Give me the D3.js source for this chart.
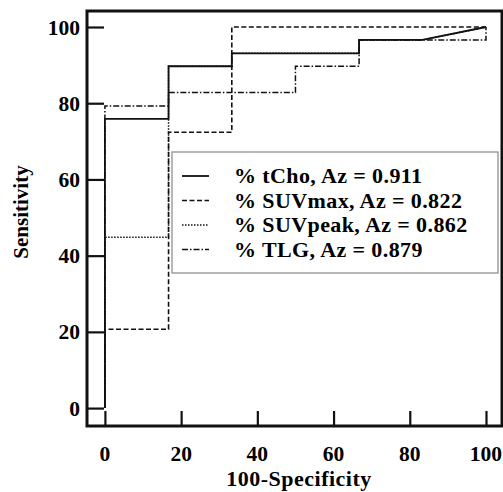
<!DOCTYPE html>
<html>
<head>
<meta charset="utf-8">
<script src="https://cdn.jsdelivr.net/npm/d3@7"></script>
<style>
  body { margin: 0; background: #fff; }
  svg text { font-family: "Liberation Serif", "Times New Roman", serif; font-weight: bold; fill: #000; }
</style>
</head>
<body>
<svg id="chart" width="503" height="492"></svg>
<script>
// ROC curves (100-Specificity, Sensitivity)
const tCho = [[0,0],[0,75.9],[16.7,75.9],[16.7,89.7],[33.3,89.7],[33.3,93.1],[66.7,93.1],[66.7,96.6],[83.3,96.6],[100,100]];
const suvMax = [[0,0],[0,20.7],[16.7,20.7],[16.7,72.4],[33.3,72.4],[33.3,100],[100,100]];
const suvPeak = [[0,0],[0,44.8],[16.7,44.8],[16.7,89.7],[33.3,89.7],[33.3,93.1],[66.7,93.1],[66.7,96.6],[83.3,96.6],[100,100]];
const tlg = [[0,0],[0,79.3],[16.7,79.3],[16.7,82.8],[50,82.8],[50,89.7],[66.7,89.7],[66.7,96.6],[100,96.6],[100,100]];

const seriesNames = ["% tCho, Az = 0.911", "% SUVmax, Az = 0.822", "% SUVpeak, Az = 0.862", "% TLG, Az = 0.879"];
const ticks = [0, 20, 40, 60, 80, 100];

const svg = d3.select("#chart");
const plotLeft = 87, plotRight = 502, plotTop = 11, plotBottom = 426;

const x = d3.scaleLinear().domain([-4.7, 104.2]).range([plotLeft, plotRight]);
const y = d3.scaleLinear().domain([-4.7, 104.2]).range([plotBottom, plotTop]);

const line = d3.line().x(d => x(d[0])).y(d => y(d[1]));

// styles per series, drawn back to front
const series = [
    { data: suvPeak, dash: "1.5,1.5", width: 1.5 },
    { data: tlg, dash: "6,2,1.5,2", width: 1.5 },
    { data: suvMax, dash: "5,2.5", width: 1.6 },
    { data: tCho, dash: null, width: 1.8 }
];

svg.selectAll("path.roc")
    .data(series)
    .enter()
    .append("path")
    .attr("class", "roc")
    .attr("d", d => line(d.data))
    .attr("fill", "none")
    .attr("stroke", "#111")
    .attr("stroke-width", d => d.width)
    .attr("stroke-dasharray", d => d.dash);

// axes: ticks drawn inward from the frame
const yAxis = d3.axisRight(y).tickValues(ticks).tickSize(17).tickFormat("");
svg.append("g")
    .attr("transform", `translate(${plotLeft},0)`)
    .call(yAxis)
    .call(g => g.select(".domain").remove())
    .call(g => g.selectAll("line").attr("stroke", "#111").attr("stroke-width", 2.2));

const xAxis = d3.axisTop(x).tickValues(ticks).tickSize(15).tickFormat("");
svg.append("g")
    .attr("transform", `translate(0,${plotBottom})`)
    .call(xAxis)
    .call(g => g.select(".domain").remove())
    .call(g => g.selectAll("line").attr("stroke", "#111").attr("stroke-width", 2.2));

// tick labels
svg.selectAll("text.ylab")
    .data(ticks)
    .enter()
    .append("text")
    .attr("class", "ylab")
    .attr("x", 80)
    .attr("y", d => y(d))
    .attr("dy", "0.35em")
    .attr("text-anchor", "end")
    .attr("font-size", 21.5)
    .text(d => d);

svg.selectAll("text.xlab")
    .data(ticks)
    .enter()
    .append("text")
    .attr("class", "xlab")
    .attr("x", d => x(d))
    .attr("y", 461)
    .attr("text-anchor", "middle")
    .attr("font-size", 21.5)
    .text(d => d);

// frame
svg.append("rect")
    .attr("x", plotLeft)
    .attr("y", plotTop)
    .attr("width", plotRight - plotLeft)
    .attr("height", plotBottom - plotTop)
    .attr("fill", "none")
    .attr("stroke", "#111")
    .attr("stroke-width", 3);

// axis titles
svg.append("text")
    .attr("x", 299)
    .attr("y", 486)
    .attr("text-anchor", "middle")
    .attr("font-size", 22)
    .attr("letter-spacing", 0.5)
    .text("100-Specificity");

svg.append("text")
    .attr("transform", "translate(28,212) rotate(-90)")
    .attr("text-anchor", "middle")
    .attr("font-size", 21)
    .text("Sensitivity");

// legend
const legend = svg.append("g");
legend.append("rect")
    .attr("x", 172)
    .attr("y", 152)
    .attr("width", 326)
    .attr("height", 121)
    .attr("fill", "#fff")
    .attr("stroke", "#888")
    .attr("stroke-width", 1.2);

const legendStyles = [series[3], series[2], series[0], series[1]];
const rowH = 24.5;
const items = legend.selectAll("g.item")
    .data(seriesNames)
    .enter()
    .append("g")
    .attr("class", "item")
    .attr("transform", (d, i) => `translate(0,${176 + i * rowH})`);

items.append("line")
    .attr("x1", 182)
    .attr("x2", 209)
    .attr("stroke", "#111")
    .attr("stroke-width", (d, i) => legendStyles[i].width)
    .attr("stroke-dasharray", (d, i) => legendStyles[i].dash);

items.append("text")
    .attr("x", 234)
    .attr("y", 7)
    .attr("font-size", 22)
    .attr("letter-spacing", 0.4)
    .text(d => d);
</script>
</body>
</html>
